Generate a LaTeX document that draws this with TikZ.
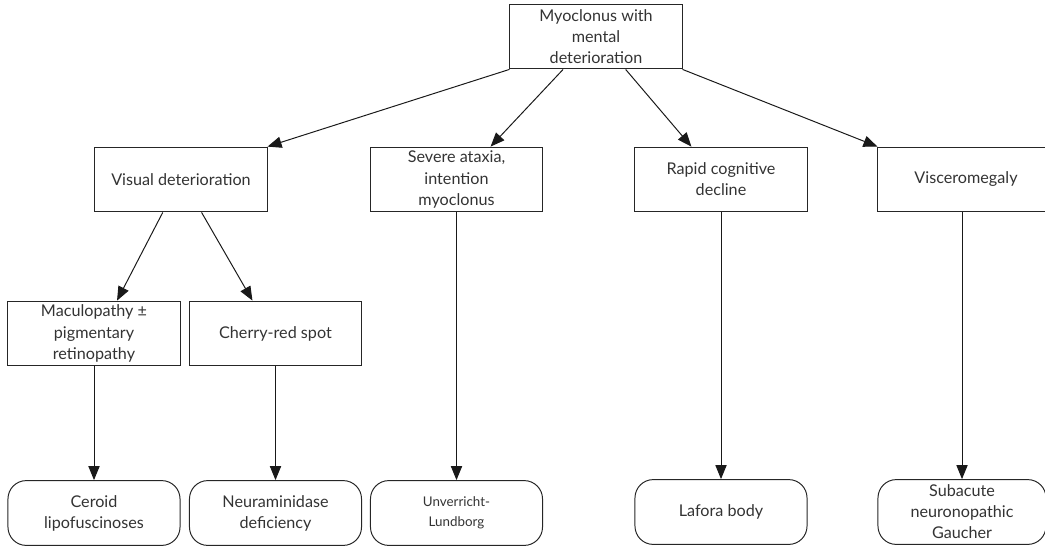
\documentclass[tikz,border=0pt]{standalone}
\usepackage{fontspec}
\setmainfont{Lato}
\usetikzlibrary{arrows.meta}

\begin{document}
\begin{tikzpicture}[x=0.025cm,y=-0.025cm,
  box/.style={draw=black!85,line width=0.7pt,text=black!80,align=center,
    minimum width=4.3cm,minimum height=1.62cm,inner sep=1pt,
    font=\fontsize{11.5}{15}\selectfont},
  endbox/.style={box,rounded corners=13pt},
  arr/.style={draw=black!90,line width=0.7pt,-{Triangle[length=10pt,width=8pt]}}]
\useasboundingbox (0,0) rectangle (1045,547);

% top
\node[box] (top) at (596,36.5) {Myoclonus with\\mental\\deterioration};

% second row
\node[box] (visual) at (181,179.5) {Visual deterioration};
\node[box] (severe) at (456.5,179.5) {Severe ataxia,\\intention\\myoclonus};
\node[box] (rapid) at (721,179.5) {Rapid cognitive\\decline};
\node[box,minimum width=4.4cm] (visc) at (966,179.5) {Visceromegaly};

% third row
\node[box] (macu) at (94,333.5) {Maculopathy \raisebox{0.1ex}{±}\\pigmentary\\retinopathy};
\node[box] (cherry) at (275.5,333.5) {Cherry-red spot};

% bottom row
\node[endbox] (ceroid) at (94,513) {Ceroid\\lipofuscinoses};
\node[endbox] (neur) at (275.5,513) {Neuraminidase\\deficiency};
\node[endbox,font=\fontsize{9.5}{14}\selectfont] (unv) at (456.5,513) {Unverricht-\\Lundborg};
\node[endbox] (lafora) at (721,512) {Lafora body};
\node[endbox,minimum width=4.2cm] (sub) at (962,512) {Subacute\\neuronopathic\\Gaucher};

% top -> second row
\draw[arr] (top.south west) -- (visual.north east);
\draw[arr] (top.225) -- (severe.44);
\draw[arr] (top.312) -- (rapid.132);
\draw[arr] (top.south east) -- (visc.north west);

% visual -> third row
\draw[arr] (visual.241) -- (macu.55);
\draw[arr] (visual.302) -- (cherry.125);

% down to the bottom row
\draw[arr] (macu) -- (ceroid);
\draw[arr] (cherry) -- (neur);
\draw[arr] (severe) -- (unv);
\draw[arr] (rapid) -- (lafora);
\draw[arr] (visc.south -| sub.north) -- (sub.north);
\end{tikzpicture}
\end{document}
